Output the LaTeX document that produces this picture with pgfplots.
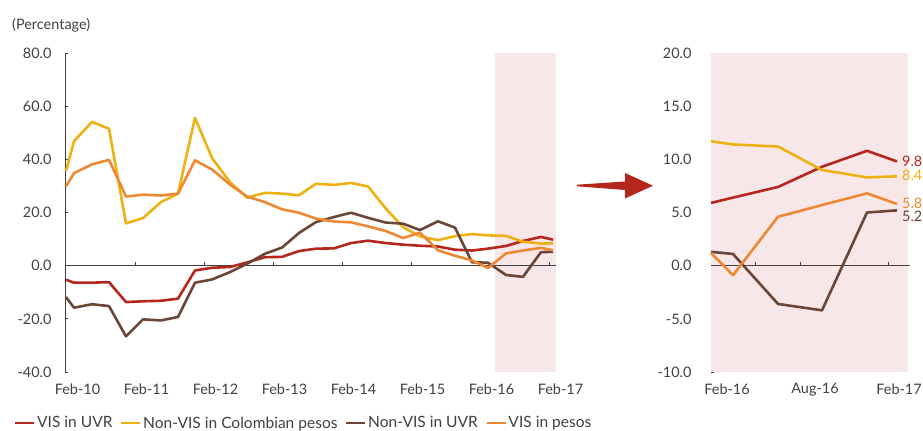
\documentclass[border=0pt]{standalone}
\usepackage{pgfplots}
\pgfplotsset{compat=1.18}
\usepackage{pgfplotstable}
\usepackage{fontspec}
\setmainfont{Lato}
\definecolor{cred}{HTML}{B5261C}
\definecolor{cyel}{HTML}{EDB111}
\definecolor{cbrn}{HTML}{6B4535}
\definecolor{corg}{HTML}{EE8833}
\definecolor{cpink}{HTML}{F7E7E9}
\definecolor{ctxt}{HTML}{404040}

\pgfplotstableread{
x red yel brn org
66 -5.3 35.6 -11.8 29.8
74 -6.4 46.8 -15.8 34.8
92 -6.4 54.1 -14.5 38.1
109 -6.2 51.5 -15.2 39.8
126 -13.7 15.9 -26.6 26.0
143 -13.4 17.9 -20.2 26.7
161 -13.2 23.9 -20.6 26.4
178 -12.4 27.1 -19.3 27.1
195 -1.8 55.6 -6.4 39.6
212 -0.8 40.5 -5.2 36.2
230 -0.5 31.4 -2.4 30.5
247 1.2 25.6 0.7 26.0
265 3.2 27.4 4.5 23.9
282 3.3 27.1 6.8 21.2
299 5.5 26.5 12.3 19.9
316 6.4 30.8 16.4 17.7
334 6.5 30.4 18.3 16.6
351 8.5 31.1 19.9 16.3
368 9.4 29.8 18.0 14.8
386 8.5 21.4 16.2 13.0
403 7.9 14.5 15.8 10.4
420 7.5 11.0 13.4 12.4
438 7.2 9.6 16.7 5.8
455 6.0 11.1 14.3 3.7
472 5.7 11.9 1.3 2.0
488 6.4 11.4 1.1 -0.9
506 7.4 11.2 -3.5 4.6
523 9.3 9.0 -4.2 5.7
541 10.8 8.3 5.1 6.7
553 9.8 8.4 5.2 5.8
}\leftdata

\pgfplotstableread{
x red yel brn org
711 5.9 11.7 1.3 1.2
733 6.4 11.4 1.1 -0.9
778 7.4 11.2 -3.6 4.6
822 9.3 9.0 -4.2 5.7
867 10.8 8.3 5.0 6.8
897 9.8 8.4 5.2 5.8
}\rightdata

\newcommand{\tf}{\fontsize{14.5}{17}\selectfont}
\newcommand{\lf}{\fontsize{15.6}{19}\selectfont}

\pgfplotsset{
  mybase/.style={
    anchor=north west, scale only axis, height=319bp,
    axis x line*=bottom, axis y line*=left,
    x axis line style={draw=none},
    y axis line style={ctxt, line width=0.9bp},
    xtick style={draw=none},
    ytick style={ctxt, line width=0.9bp},
    tick align=inside, major tick length=3bp,
    tick label style={font=\tf, text=ctxt},
    /pgf/number format/assume math mode=true,
    yticklabel style={/pgf/number format/fixed, /pgf/number format/fixed zerofill, /pgf/number format/precision=1},
    xticklabel style={yshift=-8bp},
    clip=false,
  },
  myline/.style={line width=2.6bp, line join=round},
}

\begin{document}
\begin{tikzpicture}[x=1bp,y=1bp]
\path[use as bounding box] (0bp,0bp) rectangle (923bp,431bp);
\node[anchor=west, font=\tf, text=ctxt, inner sep=0] at (12bp,406bp) {(Percentage)};

\begin{axis}[mybase, at={(65bp,378bp)}, width=491bp,
  xmin=65, xmax=556, ymin=-40, ymax=80,
  ytick={-40,-20,0,20,40,60,80},
  yticklabel style={xshift=-10bp},
  xtick={66,135,204,273,342,411,480,549},
  xticklabels={Feb-10,Feb-11,Feb-12,Feb-13,Feb-14,Feb-15,Feb-16,Feb-17},
  xticklabel style={xshift=11.5bp},
  legend style={at={(0.4857,-0.16)}, anchor=center, draw=none, fill=none,
    font=\lf, text=ctxt, inner sep=0pt,
    /tikz/every even column/.append style={column sep=6bp},
    nodes={inner sep=1.5bp}},
  legend columns=4, legend cell align=left,
  legend image code/.code={\draw[#1] (0bp,0bp) -- (19bp,0bp);},
]
\fill[cpink] (axis cs:495,-40) rectangle (axis cs:556,80);
\draw[ctxt, line width=0.9bp] (axis cs:65,0) -- (axis cs:556,0);
\pgfplotsinvokeforeach{135,204,273,342,411,480,549}{\draw[ctxt, line width=0.9bp] (axis cs:#1,0) -- ++(0bp,3.5bp);}
\addplot[myline, cred] table[x=x, y=red] {\leftdata};
\addlegendentry{VIS in UVR}
\addplot[myline, cyel] table[x=x, y=yel] {\leftdata};
\addlegendentry{Non-VIS in Colombian pesos}
\addplot[myline, cbrn] table[x=x, y=brn] {\leftdata};
\addlegendentry{Non-VIS in UVR}
\addplot[myline, corg] table[x=x, y=org] {\leftdata};
\addlegendentry{VIS in pesos}
\end{axis}

\fill[cred] (577bp,246.3bp) -- (625bp,249.5bp) -- (625bp,258bp) -- (653bp,245.3bp) -- (625bp,232.5bp) -- (625bp,241bp) -- (577bp,244.7bp) -- cycle;

\begin{axis}[mybase, at={(711bp,378bp)}, width=197bp,
  xmin=711, xmax=908, ymin=-10, ymax=20,
  ytick={-10,-5,0,5,10,15,20},
  yticklabel style={xshift=-16bp},
  xtick={727,815,899},
  xticklabels={Feb-16,Aug-16,Feb-17},
]
\fill[cpink] (axis cs:711,-10) rectangle (axis cs:908,20);
\draw[ctxt, line width=0.9bp] (axis cs:711,0) -- (axis cs:910,0);
\pgfplotsinvokeforeach{755,800,888}{\draw[ctxt, line width=0.9bp] (axis cs:#1,0) -- ++(0bp,3.5bp);}
\addplot[myline, cred] table[x=x, y=red] {\rightdata};
\addplot[myline, cyel] table[x=x, y=yel] {\rightdata};
\addplot[myline, cbrn] table[x=x, y=brn] {\rightdata};
\addplot[myline, corg] table[x=x, y=org] {\rightdata};
\node[anchor=west, font=\tf, text=cred, inner sep=0] at (axis cs:902,9.8) {9.8};
\node[anchor=west, font=\tf, text=cyel, inner sep=0] at (axis cs:902,8.5) {8.4};
\node[anchor=west, font=\tf, text=corg, inner sep=0] at (axis cs:902,5.9) {5.8};
\node[anchor=west, font=\tf, text=cbrn, inner sep=0] at (axis cs:902,4.6) {5.2};
\end{axis}
\end{tikzpicture}
\end{document}
